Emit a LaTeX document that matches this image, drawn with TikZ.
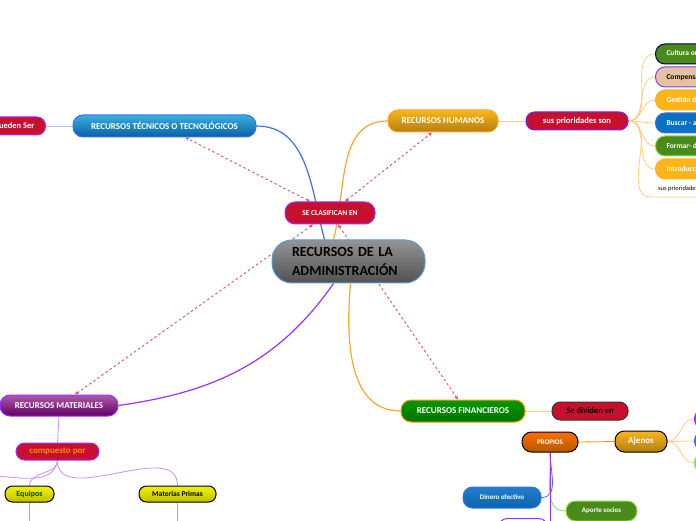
\documentclass[tikz,border=0pt]{standalone}
\usepackage{fontspec}
\setmainfont{Carlito}
\usetikzlibrary{arrows.meta,backgrounds}

\definecolor{mmRed}{HTML}{C8102E}
\definecolor{mmPurple}{HTML}{9B30FF}
\definecolor{mmDash}{HTML}{D9536B}
\definecolor{mmBlue}{HTML}{3A6EF5}
\definecolor{mmOrange}{HTML}{FFA526}
\definecolor{mmLight}{HTML}{FFCB7A}
\definecolor{mmLilac}{HTML}{C98CFF}
\definecolor{mmLime}{HTML}{8CE046}
\definecolor{mmSky}{HTML}{5B9BD5}
\definecolor{mmGold}{HTML}{FBB51A}
\definecolor{mmLeaf}{HTML}{4A8A1A}
\definecolor{mmSea}{HTML}{0A70C2}

\tikzset{
    topic/.style={
           rectangle,
           rounded corners=10pt,
           draw, line width=1pt,
           minimum height=22pt,
           inner xsep=8pt,
           text centered,
           text=white,
           font=\bfseries\fontsize{9}{10}\selectfont,
           },
    tag/.style={
           topic,
           rounded corners=8.5pt,
           minimum height=18pt,
           fill=mmRed, draw=mmPurple,
           font=\bfseries\fontsize{8.5}{10}\selectfont,
           },
    leaf/.style={
           topic,
           rounded corners=9.5pt,
           minimum height=20pt,
           font=\bfseries\fontsize{7.5}{9}\selectfont,
           },
    item/.style={
           leaf,
           anchor=west,
           inner xsep=11pt,
           },
    link/.style={
           draw=mmDash, line width=0.9pt,
           dash pattern=on 2.5pt off 2.5pt,
           {Stealth[length=4pt,width=3.5pt]}-{Stealth[length=4pt,width=3.5pt]},
           },
    branch/.style={line width=1.2pt},
    twig/.style={line width=0.8pt},
}

\begin{document}
\begin{tikzpicture}[x=1pt, y=1pt]
    \useasboundingbox (0,0) rectangle (696,520);

    % main topic
    \node[rectangle, rounded corners=20pt,
    draw=mmSky, line width=1pt,
    top color=black!42, bottom color=black!68,    % grey gradient
    minimum width=153pt, minimum height=43pt,
    inner xsep=20pt, text width=113pt, align=left,
    font=\bfseries\fontsize{14}{19}\selectfont] (admin)
    at (348.5,258.5) {RECURSOS DE LA\\ADMINISTRACIÓN};

    \node[tag, minimum width=90pt, font=\bfseries\fontsize{7.5}{8}\selectfont,
    minimum height=22pt, rounded corners=10pt] (clasif)
    at (330,307) {SE CLASIFICAN EN};

    % the four kinds of resources
    \node[topic, top color=mmSea!70!cyan!80!white, bottom color=mmSea!85!black,
    draw=mmBlue, minimum width=183pt] (tecnicos)
    at (164.5,394) {RECURSOS TÉCNICOS O TECNOLÓGICOS};

    \node[tag, anchor=east, inner xsep=11pt] (pueden)
    at (46,394) {Pueden Ser};

    \node[topic, top color=mmGold, bottom color=mmGold!70!black,
    draw=mmOrange, minimum width=110pt] (humanos)
    at (443,399) {RECURSOS HUMANOS};

    \node[tag, minimum width=102pt, draw=mmPurple!70!blue] (priori)
    at (577,399) {sus prioridades son};

    \node[topic, top color=green!60!black, bottom color=green!45!black,
    draw=orange!80!yellow, minimum width=124pt] (financ)
    at (463,109) {RECURSOS FINANCIEROS};

    \node[tag, minimum width=76pt, draw=black!80, text=black] (dividen)
    at (590,109) {Se dividen en};

    \node[topic, top color=violet!65!white, bottom color=violet!75!black,
    draw=mmPurple, minimum width=118pt, minimum height=21pt] (materiales)
    at (59,114.5) {RECURSOS  MATERIALES};

    \node[tag, minimum width=83pt, minimum height=17pt, text=orange!90!yellow,
    font=\bfseries\fontsize{9}{10}\selectfont] (compuesto)
    at (57.5,68.5) {compuesto por};

    % list of priorities (cut by the right margin)
    \node[item, fill=mmLeaf, draw=blue!30!black] (cultura)
    at (655,466) {Cultura organizacional};
    \node[item, fill=orange!30!white!90!black, draw=mmPurple, text=black] (compen)
    at (655,443) {Compensaciones y beneficios};
    \node[item, fill=mmGold, draw=mmGold] (gestion)
    at (655,420) {Gestión del talento humano};
    \node[item, fill=mmSea, draw=mmBlue] (buscar)
    at (655,397) {Buscar - atraer talento};
    \node[item, fill=mmLeaf, draw=mmLime] (formar)
    at (655,374) {Formar- desarrollar};
    \node[item, fill=mmGold, draw=mmGold] (introd)
    at (655,351) {Introducción del personal};
    \node[anchor=west, inner sep=0pt, font=\fontsize{6.5}{8}\selectfont] (otras)
    at (658,331) {sus prioridades son};
    \coordinate (otrasL) at (651,323);

    % financial resources
    \node[leaf, top color=orange!85!red, bottom color=orange!70!black,
    draw=black, minimum width=56pt, font=\bfseries\fontsize{7}{8}\selectfont] (propios)
    at (550,78) {PROPIOS};
    \node[leaf, top color=mmGold, bottom color=mmGold!70!black,
    draw=black, minimum width=52pt, minimum height=21pt,
    font=\bfseries\fontsize{9}{10}\selectfont] (ajenos)
    at (641,78.5) {Ajenos};
    \node[leaf, anchor=west, fill=mmPurple, draw=mmPurple, minimum width=40pt] (ajenosA) at (694,101) {};
    \node[leaf, anchor=west, fill=mmBlue, draw=mmBlue, minimum width=40pt] (ajenosB) at (694,79) {};
    \node[leaf, anchor=west, fill=mmLime, draw=mmLime, minimum width=40pt] (ajenosC) at (694,57) {};

    \node[leaf, top color=mmSea!90!white, bottom color=mmSea!90!black,
    draw=mmBlue, minimum width=78pt, minimum height=21pt,
    font=\bfseries\fontsize{7}{8}\selectfont] (dinero)
    at (502,22.5) {Dinero efectivo};
    \node[leaf, fill=mmLeaf, draw=mmLime, minimum width=71pt,
    font=\bfseries\fontsize{7}{8}\selectfont] (aporte)
    at (601.5,9) {Aporte socios};
    \node[leaf, anchor=north, fill=white, draw=mmPurple, minimum width=50pt] (otro)
    at (523,2) {};

    % material resources
    \node[leaf, top color=yellow!95!black, bottom color=yellow!75!black,
    draw=black, minimum width=49pt, minimum height=16pt, rounded corners=7.5pt,
    text=green!30!black, font=\bfseries\fontsize{8}{9}\selectfont] (equipos)
    at (29.5,26) {Equipos};
    \node[leaf, top color=yellow!95!black, bottom color=yellow!75!black,
    draw=black, minimum width=77pt, minimum height=16pt, rounded corners=7.5pt,
    text=black] (materias)
    at (177.5,26) {Materias Primas};

    % connectors behind the boxes
    \begin{pgfonlayer}{background}
    \path[branch]
        ([xshift=-24pt]admin.north) edge[draw=mmBlue, out=105, in=0] (tecnicos.east)
        ([xshift=-15pt]admin.north) edge[draw=mmOrange, out=75, in=180] (humanos.west)
        ([xshift=-15pt]admin.south) edge[draw=mmPurple, out=-125, in=8] (materiales.east)
        ([xshift=2pt]admin.south)   edge[draw=mmOrange, out=-95, in=180] (financ.west);

    \path[twig, draw=mmLight]
        (tecnicos.west) edge[draw=mmBlue!40] (pueden.east)
        (humanos.east)  edge (priori.west)
        (financ.east)   edge (dividen.west);
    \foreach \n in {cultura,compen,gestion,buscar,formar,introd}
        \draw[twig, draw=mmLight] (priori.east) to[out=0, in=180] (\n.west);
    \draw[twig, draw=mmLight] (priori.east) to[out=0, in=180] (otrasL) -- ++(50,0);

    \draw[twig, draw=orange!90!yellow] (propios.east) -- (ajenos.west);
    \foreach \n in {ajenosA,ajenosB,ajenosC}
        \draw[twig, draw=mmLight] (ajenos.east) to[out=0, in=180] (\n.west);
    \draw[twig, draw=mmBlue] (propios.south) to[out=-90, in=0] (dinero.east);
    \draw[twig, draw=mmLime] (propios.south) to[out=-85, in=180] (aporte.west);
    \draw[twig, draw=mmPurple] (propios.south) -- ++(0,-80);

    \draw[twig, draw=mmLilac] (materiales.south) -- (compuesto.north);
    \draw[twig, draw=mmLilac] (compuesto.south) to[out=-90, in=90] (equipos.north);
    \draw[twig, draw=mmLilac] (compuesto.south) to[out=-90, in=90] (materias.north);
    \draw[twig, draw=mmLilac] (compuesto.south) to[out=-100, in=0] (-10,44);
    \draw[twig, draw=mmLilac] (equipos.south) -- ++(0,-30);
    \draw[twig, draw=mmLilac] (materias.south) -- ++(0,-30);

    % dashed links from the classification
    \draw[link] ([xshift=-20pt]clasif.north) -- ([xshift=21pt]tecnicos.south);
    \draw[link] ([xshift=15pt]clasif.north) -- ([xshift=-11pt]humanos.south);
    \draw[link] ([xshift=-17pt]clasif.south) -- ([xshift=16pt]materiales.north);
    \draw[link] ([xshift=8pt]clasif.south) -- ([xshift=-5pt]financ.north);
    \end{pgfonlayer}
\end{tikzpicture}
\end{document}
